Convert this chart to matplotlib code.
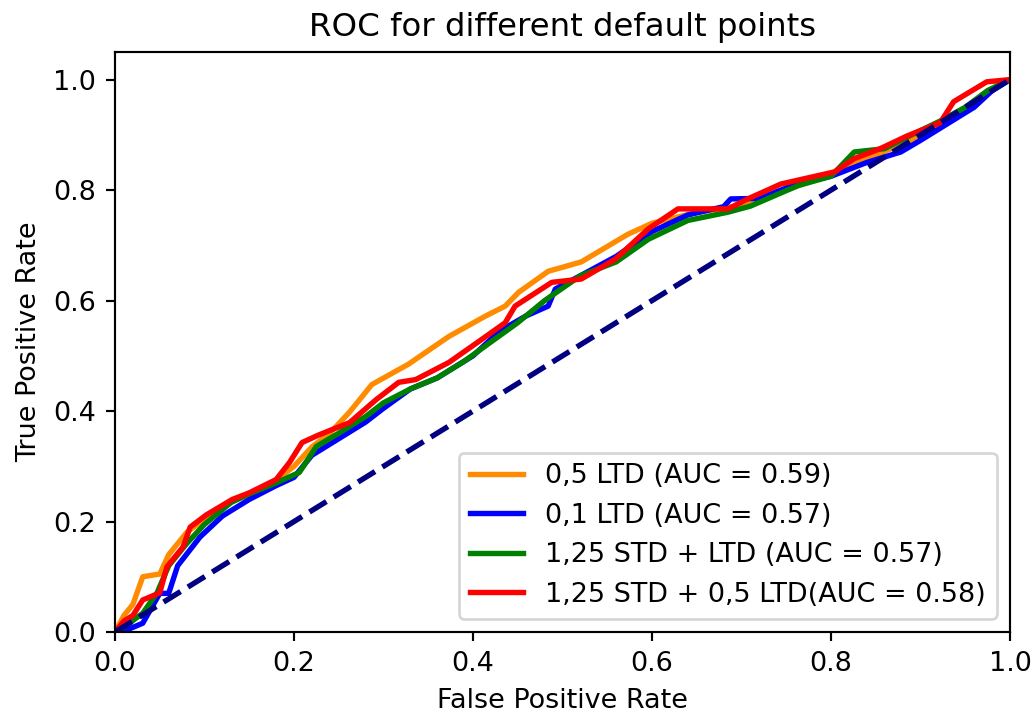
import matplotlib
matplotlib.use('Agg')
import matplotlib.pyplot as plt

# ROC curve points
fpr_05 = [0, 0.01, 0.02, 0.031, 0.042, 0.05, 0.06, 0.08, 0.1, 0.13, 0.15, 0.18, 0.2, 0.22, 0.24, 0.262,
          0.287, 0.328, 0.373, 0.414, 0.436, 0.451, 0.484, 0.521, 0.573, 0.6, 0.651, 0.69, 0.72, 0.75,
          0.8, 0.83, 0.86, 0.89, 0.92, 0.95, 0.975, 1.0]
tpr_05 = [0, 0.03, 0.05, 0.10, 0.103, 0.105, 0.14, 0.18, 0.205, 0.235, 0.25, 0.275, 0.30, 0.335, 0.36, 0.398,
          0.448, 0.485, 0.535, 0.572, 0.59, 0.615, 0.653, 0.67, 0.72, 0.74, 0.76, 0.77, 0.785, 0.80,
          0.83, 0.85, 0.87, 0.89, 0.915, 0.945, 0.98, 1.0]

fpr_01 = [0, 0.015, 0.031, 0.05, 0.06, 0.07, 0.095, 0.12, 0.15, 0.18, 0.2, 0.22, 0.25, 0.28, 0.3, 0.33,
          0.36, 0.4, 0.43, 0.459, 0.484, 0.492, 0.52, 0.56, 0.6, 0.64, 0.68, 0.688, 0.72, 0.76, 0.8,
          0.84, 0.878, 0.9, 0.93, 0.96, 0.98, 1.0]
tpr_01 = [0, 0.005, 0.016, 0.07, 0.07, 0.12, 0.172, 0.21, 0.24, 0.265, 0.28, 0.32, 0.35, 0.38, 0.405, 0.44,
          0.46, 0.50, 0.545, 0.572, 0.59, 0.621, 0.645, 0.68, 0.725, 0.755, 0.77, 0.784, 0.785, 0.81, 0.825,
          0.85, 0.869, 0.89, 0.92, 0.95, 0.98, 1.0]

fpr_std = [0, 0.015, 0.031, 0.047, 0.06, 0.08, 0.1, 0.13, 0.15, 0.18, 0.206, 0.225, 0.25, 0.28, 0.3, 0.33,
           0.36, 0.39, 0.42, 0.45, 0.48, 0.52, 0.56, 0.596, 0.64, 0.685, 0.71, 0.763, 0.8, 0.826, 0.86,
           0.89, 0.922, 0.95, 0.975, 1.0]
tpr_std = [0, 0.015, 0.034, 0.071, 0.12, 0.16, 0.195, 0.235, 0.25, 0.27, 0.289, 0.336, 0.36, 0.39, 0.415, 0.44,
           0.46, 0.49, 0.525, 0.56, 0.60, 0.645, 0.67, 0.711, 0.745, 0.76, 0.771, 0.808, 0.825, 0.869, 0.875,
           0.9, 0.925, 0.95, 0.98, 1.0]

fpr_std05 = [0, 0.01, 0.02, 0.031, 0.05, 0.058, 0.076, 0.084, 0.102, 0.131, 0.15, 0.18, 0.195, 0.209, 0.228,
             0.262, 0.292, 0.317, 0.336, 0.373, 0.41, 0.436, 0.447, 0.488, 0.521, 0.559, 0.596, 0.629, 0.685,
             0.707, 0.744, 0.804, 0.826, 0.855, 0.885, 0.922, 0.937, 0.974, 1.0]
tpr_std05 = [0, 0.02, 0.03, 0.058, 0.071, 0.118, 0.154, 0.19, 0.212, 0.24, 0.252, 0.276, 0.307, 0.343, 0.357,
             0.379, 0.421, 0.452, 0.457, 0.488, 0.53, 0.56, 0.59, 0.633, 0.639, 0.675, 0.73, 0.766, 0.766,
             0.784, 0.811, 0.833, 0.857, 0.875, 0.898, 0.922, 0.96, 0.996, 1.0]

labels = ['0,5 LTD (AUC = 0.59)', '0,1 LTD (AUC = 0.57)',
          '1,25 STD + LTD (AUC = 0.57)', '1,25 STD + 0,5 LTD(AUC = 0.58)']
colors = ['darkorange', 'blue', 'green', 'red']

dpi = 194
fig = plt.figure(figsize=(1032 / dpi, 717 / dpi), dpi=dpi)
ax = fig.add_axes([115 / 1032, 0.1185, 895 / 1032, 0.809])

curves = [(fpr_05, tpr_05), (fpr_01, tpr_01), (fpr_std, tpr_std), (fpr_std05, tpr_std05)]
for (f, t), lab, c in zip(curves, labels, colors):
    ax.plot(f, t, color=c, lw=2, label=lab)

ax.plot([0, 1], [0, 1], color='navy', lw=2, linestyle='--')
ax.set_xlim([0.0, 1.0])
ax.set_ylim([0.0, 1.05])
ax.set_xlabel('False Positive Rate')
ax.set_ylabel('True Positive Rate')
ax.set_title('ROC for different default points')
ax.legend(loc='lower right')

fig.savefig('out.png', dpi=dpi)
